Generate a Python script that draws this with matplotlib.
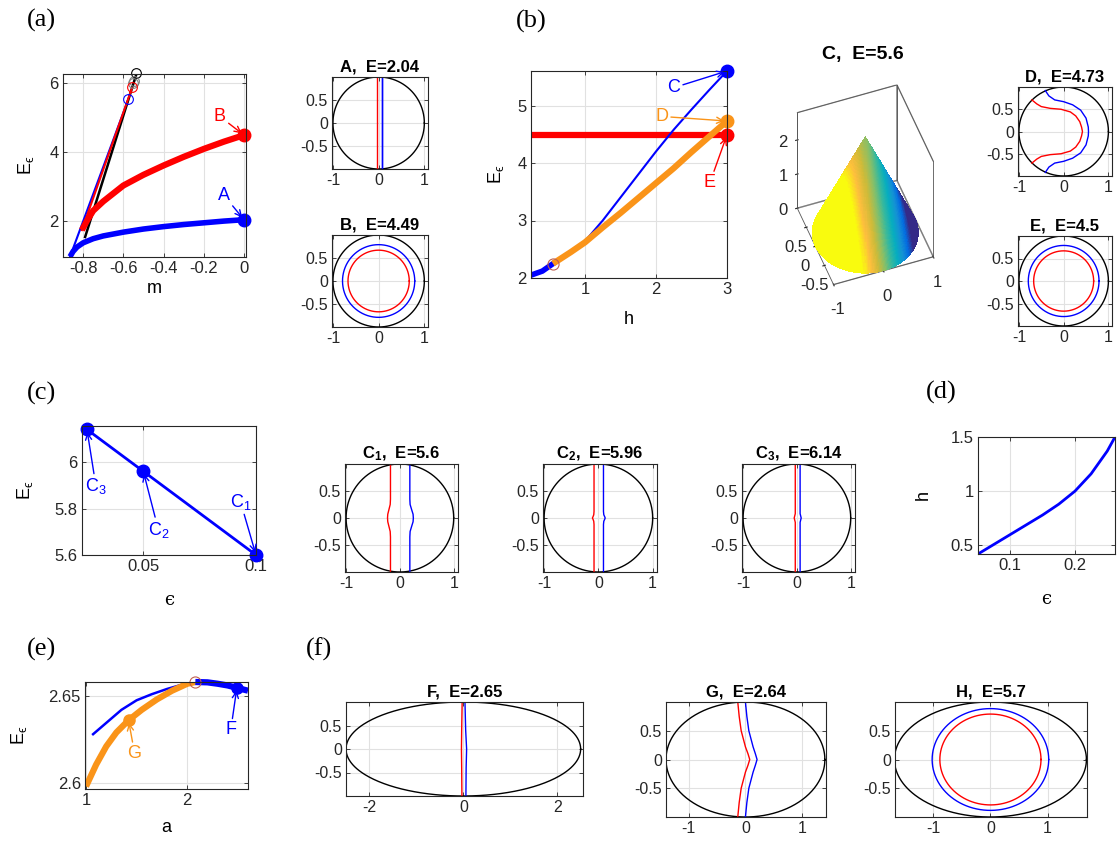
import numpy as np
import matplotlib
matplotlib.use('Agg')
import matplotlib.pyplot as plt
from matplotlib import ticker
from matplotlib.colors import LinearSegmentedColormap

plt.rcParams.update({
    'font.family': ['Liberation Sans', 'DejaVu Sans'],
    'mathtext.fontset': 'custom',
    'mathtext.rm': 'Liberation Sans',
    'mathtext.bf': 'Liberation Sans:bold',
    'mathtext.it': 'Liberation Sans:italic',
    'mathtext.fallback': 'stix',
    'axes.unicode_minus': False,
    'axes.edgecolor': '#262626',
    'axes.linewidth': 0.8,
})

BLUE, RED, ORANGE, BROWN = '#0000ff', '#ff0000', '#fa9419', '#c06050'

# ---- (a) energy vs m
a_blue_m = [-0.865, -0.85, -0.83, -0.8, -0.75, -0.7, -0.6, -0.5, -0.4, -0.3, -0.2, -0.1, 0.0]
a_blue_E = [0.97, 1.12, 1.25, 1.37, 1.49, 1.57, 1.68, 1.77, 1.84, 1.90, 1.95, 2.00, 2.04]
a_red_m = [-0.806, -0.78, -0.75, -0.7, -0.6, -0.5, -0.4, -0.3, -0.2, -0.1, 0.0]
a_red_E = [1.74, 2.02, 2.30, 2.57, 3.03, 3.34, 3.61, 3.86, 4.09, 4.30, 4.49]
a_thin_blue_m, a_thin_blue_E = [-0.865, -0.577], [0.97, 5.5]
a_thin_black_m, a_thin_black_E = [-0.79, -0.537], [1.54, 6.22]
a_thin_red_m, a_thin_red_E = [-0.806, -0.557], [1.74, 5.85]
a_circ_m = [-0.537, -0.552, -0.548, -0.557, -0.577]
a_circ_E = [6.28, 5.99, 6.06, 5.87, 5.53]
a_circ_c = ['k', '#808080', '#808080', RED, BLUE]

# ---- (b) energy vs h
b_blue_h = [0.24, 0.4, 0.55, 0.8, 1.0, 1.25, 1.5, 1.75, 2.0, 2.25, 2.5, 2.75, 3.0]
b_blue_E = [2.05, 2.12, 2.25, 2.45, 2.64, 3.0, 3.4, 3.8, 4.2, 4.58, 4.93, 5.27, 5.6]
b_orange_h = [0.55, 0.8, 1.0, 1.25, 1.5, 1.75, 2.0, 2.25, 2.5, 2.75, 3.0]
b_orange_E = [2.25, 2.45, 2.62, 2.88, 3.13, 3.39, 3.65, 3.91, 4.19, 4.46, 4.73]
b_red_h, b_red_E = [0.24, 3.0], [4.49, 4.49]

# ---- (c) energy vs epsilon
c_eps = [0.025, 0.05, 0.1]
c_E = [6.14, 5.96, 5.6]

# ---- (d) h vs epsilon
d_eps = [0.05, 0.075, 0.1, 0.125, 0.15, 0.175, 0.2, 0.225, 0.25, 0.262]
d_h = [0.42, 0.51, 0.6, 0.69, 0.78, 0.88, 1.0, 1.16, 1.37, 1.5]

# ---- (e) energy vs a
e_orange_a = [1.0, 1.1, 1.2, 1.3, 1.42, 1.55, 1.7, 1.85, 2.0, 2.08]
e_orange_E = [2.598, 2.6105, 2.621, 2.629, 2.636, 2.642, 2.648, 2.653, 2.657, 2.658]
e_blue_a = [1.07, 1.2, 1.35, 1.5, 1.65, 1.8, 1.95, 2.08]
e_blue_E = [2.628, 2.6345, 2.642, 2.6475, 2.651, 2.654, 2.6565, 2.658]
e_thick_a = [2.08, 2.2, 2.3, 2.4, 2.5, 2.6]
e_thick_E = [2.658, 2.6578, 2.657, 2.656, 2.6545, 2.653]

# ---- interface curves (upper half, mirrored in y)
yA = [1.0, -1.0]
C1_y = [0.984, 0.35, 0.25, 0.15, 0.07, 0.0]
C1_red = [-0.175, -0.175, -0.18, -0.205, -0.225, -0.23]
C1_blue = [0.185, 0.185, 0.19, 0.22, 0.245, 0.25]
C2_y = [0.997, 0.12, 0.06, 0.02, 0.0]
C2_red = [-0.08, -0.08, -0.085, -0.1, -0.11]
C2_blue = [0.094, 0.094, 0.1, 0.118, 0.125]
C3_y = [0.999, 0.08, 0.04, 0.0]
C3_red = [-0.03, -0.03, -0.04, -0.05]
C3_blue = [0.06, 0.06, 0.07, 0.08]
D_red_x = [-0.71, -0.6, -0.5, -0.3, -0.06, 0.15, 0.27, 0.36, 0.40, 0.42]
D_red_y = [0.71, 0.62, 0.56, 0.52, 0.50, 0.44, 0.35, 0.22, 0.10, 0.0]
D_blue_x = [-0.41, -0.33, -0.2, 0.0, 0.2, 0.38, 0.5, 0.55, 0.555]
D_blue_y = [0.92, 0.80, 0.71, 0.67, 0.60, 0.48, 0.30, 0.10, 0.0]
F_y = [1.0, 0.4, 0.0, -0.4, -1.0]
F_red = [-0.025, -0.035, -0.04, -0.035, -0.03]
F_blue = [0.035, 0.05, 0.07, 0.06, 0.055]
G_y = [1.0, 0.75, 0.5, 0.22, 0.1, 0.0]
G_red = [-0.135, -0.11, -0.075, 0.0, 0.045, 0.076]
G_blue = [0.0, 0.025, 0.06, 0.135, 0.175, 0.205]

# parula-like colormap
parula = LinearSegmentedColormap.from_list('parula', [
    (0.208, 0.166, 0.529), (0.012, 0.422, 0.880), (0.078, 0.570, 0.832),
    (0.024, 0.680, 0.746), (0.214, 0.725, 0.615), (0.527, 0.749, 0.409),
    (0.810, 0.733, 0.220), (0.993, 0.745, 0.239), (0.976, 0.983, 0.054)])

W, H = 1119, 843
fig = plt.figure(figsize=(W / 100, H / 100), dpi=100)

TICK_MAIN, TICK_SMALL, LAB = 12, 11.5, 13


def box(x0, y0, x1, y1, **kw):
    return fig.add_axes([x0 / W, 1 - y1 / H, (x1 - x0) / W, (y1 - y0) / H], **kw)


def style(ax, fs=TICK_MAIN):
    ax.grid(True, color='#e1e1e1', lw=0.8)
    ax.set_axisbelow(True)
    ax.tick_params(direction='in', top=True, right=True, length=3, width=0.6,
                   labelsize=fs, colors='#262626', pad=3)
    ax.xaxis.set_major_formatter(ticker.FormatStrFormatter('%g'))
    ax.yaxis.set_major_formatter(ticker.FormatStrFormatter('%g'))


def mirror(x, y):
    x, y = np.asarray(x), np.asarray(y)
    return np.r_[x, x[::-1][1:]], np.r_[y, -y[::-1][1:]]


def domain(ax, a, title, red=None, blue=None, xlim=(-1.02, 1.08), xt=(-1, 0, 1)):
    t = np.linspace(0, 2 * np.pi, 400)
    ax.plot(a * np.cos(t), np.sin(t), color='k', lw=1)
    if red is not None:
        ax.plot(red[0], red[1], color=RED, lw=1)
    if blue is not None:
        ax.plot(blue[0], blue[1], color=BLUE, lw=1)
    ax.set_xlim(*xlim)
    ax.set_ylim(-1, 1)
    ax.set_xticks(xt)
    ax.set_yticks([-0.5, 0, 0.5])
    style(ax, TICK_SMALL)
    ax.set_title(title, fontsize=12, fontweight='bold', pad=4)


def ring(ax, rx_blue, ry_blue, rx_red, ry_red):
    t = np.linspace(0, 2 * np.pi, 400)
    ax.plot(rx_blue * np.cos(t), ry_blue * np.sin(t), color=BLUE, lw=1)
    ax.plot(rx_red * np.cos(t), ry_red * np.sin(t), color=RED, lw=1)


def label(ax, txt, xy, xyt, color, fs=13):
    ax.annotate(txt, xy=xy, xytext=xyt, color=color, fontsize=fs, ha='center', va='center',
                arrowprops=dict(arrowstyle='->', color=color, lw=1, shrinkA=0, shrinkB=2,
                                mutation_scale=11))


ELAB = '$\\mathrm{E}_{\\mathrm{\u03f5}}$'
EPS_KW = dict(fontsize=LAB, family=['DejaVu Serif'])

# (a)
ax = box(63, 74, 246, 257)
ax.plot(a_blue_m, a_blue_E, color=BLUE, lw=4, solid_capstyle='butt')
ax.plot(a_thin_blue_m, a_thin_blue_E, color=BLUE, lw=1.5)
ax.plot(a_thin_black_m, a_thin_black_E, color='k', lw=1.8)
ax.plot(a_thin_red_m, a_thin_red_E, color=RED, lw=1.5)
ax.plot(a_red_m, a_red_E, color=RED, lw=4.5, solid_capstyle='butt')
for m, e, c in zip(a_circ_m, a_circ_E, a_circ_c):
    ax.plot(m, e, 'o', mfc='none', mec=c, ms=7, mew=0.8, clip_on=False)
ax.plot(a_blue_m[-1], a_blue_E[-1], 'o', color=BLUE, ms=9, clip_on=False)
ax.plot(a_red_m[-1], a_red_E[-1], 'o', color=RED, ms=9, clip_on=False)
label(ax, 'A', (a_blue_m[-1], a_blue_E[-1]), (-0.1, 2.75), BLUE)
label(ax, 'B', (a_red_m[-1], a_red_E[-1]), (-0.12, 5.03), RED)
ax.set_xlim(-0.9, 0.01)
ax.set_ylim(0.96, 6.26)
ax.set_xticks([-0.8, -0.6, -0.4, -0.2, 0])
ax.set_yticks([2, 4, 6])
style(ax)
ax.set_xlabel('m', fontsize=LAB, labelpad=3)
ax.set_ylabel(ELAB, fontsize=LAB, labelpad=10)

# A, B
ax = box(332, 77, 428, 169)
domain(ax, 1, 'A,  E=2.04', red=([-0.04, -0.04], yA), blue=([0.08, 0.08], yA))
ax.plot([0.065, 0.065], yA, color=BLUE, lw=1)
ax = box(332, 235, 428, 327)
domain(ax, 1, 'B,  E=4.49')
ring(ax, 0.79, 0.79, 0.67, 0.67)

# (b)
ax = box(531, 71, 727, 278)
ax.plot(b_red_h, b_red_E, color=RED, lw=4.5, solid_capstyle='butt')
ax.plot(b_blue_h, b_blue_E, color=BLUE, lw=1.5)
ax.plot(b_blue_h[:3], b_blue_E[:3], color=BLUE, lw=4)
ax.plot(b_orange_h, b_orange_E, color=ORANGE, lw=4.5, solid_capstyle='butt')
ax.plot(b_orange_h[0], b_orange_E[0], 'o', mfc='none', mec=BROWN, ms=8, mew=0.8)
for hh, ee, c in [(b_blue_h[-1], b_blue_E[-1], BLUE), (b_orange_h[-1], b_orange_E[-1], ORANGE),
                  (b_red_h[-1], b_red_E[-1], RED)]:
    ax.plot(hh, ee, 'o', color=c, ms=9, clip_on=False)
label(ax, 'C', (b_blue_h[-1], b_blue_E[-1]), (2.25, 5.31), BLUE)
label(ax, 'D', (b_orange_h[-1], b_orange_E[-1]), (2.08, 4.81), ORANGE)
label(ax, 'E', (b_red_h[-1], b_red_E[-1]), (2.76, 3.66), RED)
ax.set_xlim(0.24, 3.0)
ax.set_ylim(2.0, 5.6)
ax.set_xticks([1, 2, 3])
ax.set_yticks([2, 3, 4, 5])
style(ax)
ax.set_xlabel('h', fontsize=LAB, labelpad=10)
ax.set_ylabel(ELAB, fontsize=LAB, labelpad=8)

# C: cone surface, coloured across x
ax3 = box(760, 60, 965, 315, projection='3d')
ax3.computed_zorder = False
cone_h = 2.8
r = np.linspace(0, 1, 40)
th = np.radians(np.linspace(100, 460, 241))
R, T = np.meshgrid(r, th)
X, Y, Z = R * np.cos(T), R * np.sin(T), cone_h * (1 - R)
cval = np.clip(0.87 - 0.95 * (X + 0.24), 0, 1)
ax3.plot_surface(X, Y, Z, facecolors=parula(cval), shade=False, linewidth=0,
                 antialiased=False, rstride=1, cstride=1, zorder=1)
# back box edges
for ex, ey in [(-1, 1), (1, 1), (1, -1)]:
    ax3.plot([ex, ex], [ey, ey], [0, cone_h], color='#555555', lw=0.6, zorder=2)
ax3.plot([-1, 1, 1], [1, 1, -1], [cone_h] * 3, color='#555555', lw=0.6, zorder=2)
ax3.set_proj_type('ortho')
ax3.view_init(elev=50, azim=-110)
ax3.set_box_aspect((1, 1, 1.4))
ax3.set_xlim(-1, 1)
ax3.set_ylim(-1, 1)
ax3.set_zlim(0, cone_h)
ax3.set_xticks([-1, 0, 1])
ax3.set_yticks([-0.5, 0, 0.5])
ax3.set_zticks([0, 1, 2])
for axis in (ax3.xaxis, ax3.yaxis, ax3.zaxis):
    axis.set_major_formatter(ticker.FormatStrFormatter('%g'))
    axis.pane.fill = False
    axis.pane.set_edgecolor('#555555')
    axis.line.set_color('#555555')
    axis.line.set_linewidth(0.6)
ax3.grid(False)
ax3.tick_params(labelsize=TICK_MAIN, colors='#262626', pad=0)
fig.text(863 / W, 1 - 55 / H, 'C,  E=5.6', fontsize=14, fontweight='bold',
         ha='center', va='center')

# D, E
ax = box(1018, 87, 1112, 176)
domain(ax, 1, 'D,  E=4.73', red=mirror(D_red_x, D_red_y), blue=mirror(D_blue_x, D_blue_y))
ax = box(1018, 236, 1112, 326)
domain(ax, 1, 'E,  E=4.5')
ring(ax, 0.79, 0.79, 0.67, 0.67)

# (c)
ax = box(82, 426, 256, 555)
ax.plot(c_eps, c_E, '-o', color=BLUE, lw=2, ms=9, clip_on=False)
label(ax, r'C$_3$', (c_eps[0], c_E[0]), (0.029, 5.895), BLUE)
label(ax, r'C$_2$', (c_eps[1], c_E[1]), (0.0567, 5.708), BLUE)
label(ax, r'C$_1$', (c_eps[2], c_E[2]), (0.0931, 5.83), BLUE)
ax.set_xlim(0.0228, 0.1)
ax.set_ylim(5.6, 6.155)
ax.set_xticks([0.05, 0.1])
ax.set_yticks([5.6, 5.8, 6.0])
style(ax)
ax.set_xlabel('\u03f5', labelpad=12, **EPS_KW)
ax.set_ylabel(ELAB, fontsize=LAB, labelpad=14)

# C1, C2, C3
for (x0, x1), ttl, yy, rx, bx in [((345, 458), r'$\mathbf{C_1}$,  E=5.6', C1_y, C1_red, C1_blue),
                                   ((543, 657), r'$\mathbf{C_2}$,  E=5.96', C2_y, C2_red, C2_blue),
                                   ((742, 855), r'$\mathbf{C_3}$,  E=6.14', C3_y, C3_red, C3_blue)]:
    ax = box(x0, 464, x1, 572)
    domain(ax, 1, ttl, red=mirror(rx, yy), blue=mirror(bx, yy))

# (d)
ax = box(978, 437, 1115, 554)
ax.plot(d_eps, d_h, color=BLUE, lw=2)
ax.set_xlim(0.05, 0.262)
ax.set_ylim(0.42, 1.5)
ax.set_xticks([0.1, 0.2])
ax.set_yticks([0.5, 1, 1.5])
style(ax)
ax.set_xlabel('\u03f5', labelpad=12, **EPS_KW)
ax.set_ylabel('h', fontsize=LAB, labelpad=14)

# (e)
ax = box(85, 682, 248, 789)
ax.plot(e_blue_a, e_blue_E, color=BLUE, lw=1.8)
ax.plot(e_orange_a, e_orange_E, color=ORANGE, lw=4.5, solid_capstyle='butt')
ax.plot(e_thick_a, e_thick_E, color=BLUE, lw=4.5, solid_capstyle='butt', clip_on=False)
ax.plot(e_thick_a[0], e_thick_E[0], 'o', mfc='none', mec=BROWN, ms=8, mew=0.8, clip_on=False)
ax.plot(1.42, 2.636, 'o', color=ORANGE, ms=8)
ax.plot(2.49, 2.6547, 'o', color=BLUE, ms=8)
label(ax, 'G', (1.42, 2.636), (1.48, 2.617), ORANGE)
label(ax, 'F', (2.49, 2.6547), (2.43, 2.6305), BLUE)
ax.set_xlim(0.99, 2.6)
ax.set_ylim(2.5965, 2.658)
ax.set_xticks([1, 2])
ax.set_yticks([2.6, 2.65])
style(ax)
ax.set_xlabel('a', fontsize=LAB, labelpad=8)
ax.set_ylabel(ELAB, fontsize=LAB, labelpad=14)

# (f) F, G, H
ax = box(346, 702, 583, 796)
domain(ax, 2.5, 'F,  E=2.65', red=(F_red, F_y), blue=(F_blue, F_y),
       xlim=(-2.5, 2.55), xt=(-2, 0, 2))
ax = box(666, 702, 826, 817)
domain(ax, 1.4, 'G,  E=2.64', red=mirror(G_red, G_y), blue=mirror(G_blue, G_y),
       xlim=(-1.4, 1.42))
ax = box(895, 702, 1087, 817)
domain(ax, 1.68, 'H,  E=5.7', xlim=(-1.67, 1.69))
ring(ax, 1.02, 0.885, 0.885, 0.79)

for txt, x, y in [('(a)', 41, 20), ('(b)', 531, 21), ('(c)', 41, 393), ('(d)', 941, 392),
                  ('(e)', 41, 649), ('(f)', 319, 649)]:
    fig.text(x / W, 1 - y / H, txt, fontsize=19, family='Liberation Serif',
             ha='center', va='center')

fig.savefig('out.png', dpi=100)
